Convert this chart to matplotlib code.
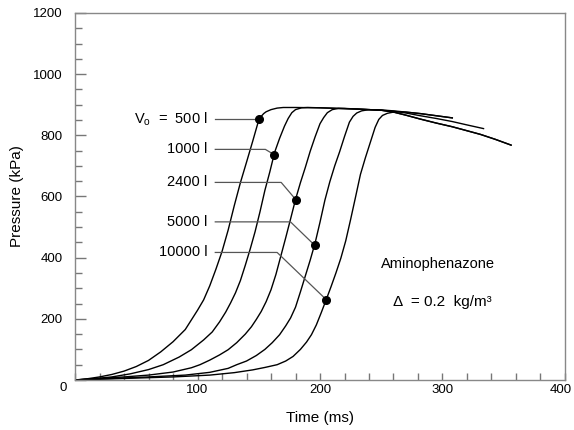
import matplotlib
matplotlib.use("Agg")
import matplotlib.pyplot as plt
from matplotlib.ticker import MultipleLocator
from matplotlib.transforms import ScaledTranslation

plt.rcParams['font.family'] = ['Liberation Sans', 'DejaVu Sans']
plt.rcParams['mathtext.fontset'] = 'custom'
plt.rcParams['mathtext.rm'] = 'Liberation Sans'
plt.rcParams['mathtext.it'] = 'Liberation Sans:italic'

# ---- data (time in ms, pressure in kPa) ----
t_500 = [0, 10, 20, 30, 40, 50, 60, 70, 80, 90, 100, 105, 110, 115, 120, 125, 130, 135, 140, 145,
         150, 152, 154, 156, 160, 165, 170, 180, 200, 230, 250, 260, 270, 282, 295, 308, 320, 331, 343, 356]
p_500 = [0, 4, 10, 18, 29, 44, 64, 92, 125, 165, 228, 262, 308, 362, 420, 490, 570, 645, 712, 780,
         850, 862, 871, 877, 884, 889, 891, 891, 890, 886, 882, 876, 866, 853, 840, 828, 815, 803, 787, 768]

t_1000 = [0, 15, 30, 45, 60, 72, 85, 95, 105, 112, 118, 123, 127, 131, 135, 139, 143, 147, 151, 155,
          159, 163, 167, 171, 174, 177, 180, 185, 190, 200, 230, 250, 260, 270, 282, 295, 308, 320, 331, 343, 356]
p_1000 = [0, 4, 10, 20, 34, 50, 75, 99, 131, 157, 190, 222, 252, 285, 325, 375, 428, 485, 550, 620,
          680, 745, 790, 830, 855, 874, 884, 890, 891, 890, 886, 882, 876, 866, 853, 840, 828, 815, 803, 787, 768]

t_2400 = [0, 20, 40, 60, 80, 95, 102, 110, 118, 125, 132, 139, 144, 148, 152, 156, 160, 164, 168, 172,
          176, 180, 184, 188, 192, 196, 200, 203, 206, 210, 215, 220, 230, 250, 260, 270, 282, 295, 308, 320, 333.5]
p_2400 = [0, 5, 10, 16, 26, 40, 50, 65, 82, 99, 122, 150, 174, 198, 224, 256, 295, 345, 405, 465,
          527, 590, 645, 695, 748, 795, 838, 858, 874, 884, 888, 888, 886, 882, 879, 873, 864, 855, 845, 834, 822]

t_5000 = [0, 30, 60, 90, 110, 125, 132, 140, 148, 155, 161, 167, 172, 176, 180, 184, 188, 192, 196, 200,
          204, 208, 212, 216, 220, 224, 227, 230, 234, 240, 250, 260, 270, 282, 295, 308]
p_5000 = [0, 5, 10, 16, 25, 38, 50, 62, 80, 100, 122, 148, 177, 203, 238, 288, 340, 392, 448, 516,
          588, 648, 700, 746, 796, 843, 862, 873, 880, 884, 883, 880, 876, 871, 864, 857]

t_10000 = [0, 40, 80, 110, 130, 145, 155, 165, 172, 178, 184, 189, 193, 197, 201, 205, 209, 213, 217, 221,
           225, 229, 233, 237, 241, 245, 248, 251, 255, 260, 265, 270, 282, 295, 308]
p_10000 = [0, 5, 10, 16, 24, 33, 41, 50, 62, 77, 100, 124, 148, 180, 220, 262, 305, 350, 398, 455,
           525, 598, 672, 726, 776, 826, 852, 865, 872, 876, 877, 876, 871, 864, 857]

labels = ["V$_\\mathrm{o}$  =  500 l", "1000 l", "2400 l", "5000 l", "10000 l"]
label_p = [853, 754, 646, 517, 417]
knee_t = [150.2, 155.4, 168.3, 175.9, 165.0]
dot_t = [150.2, 162.5, 180.2, 195.8, 205.3]
dot_p = [853, 737, 590, 440, 262]

# ---- figure ----
fig = plt.figure(figsize=(5.74, 4.30), dpi=100)
ax = fig.add_axes([0.1307, 0.1163, 0.8536, 0.8535])

curves = [(t_500, p_500), (t_1000, p_1000), (t_2400, p_2400), (t_5000, p_5000), (t_10000, p_10000)]
for t, p in curves:
    ax.plot(t, p, color='black', lw=1.0, solid_joinstyle='round')

lead_start = 114.5
for lab, lp, kt, dt, dp in zip(labels, label_p, knee_t, dot_t, dot_p):
    ax.plot([lead_start, kt, dt], [lp, lp, dp], color='#555555', lw=0.9)
    ax.plot([dt], [dp], 'o', color='black', ms=5.5, zorder=5)
    ax.text(108, lp, lab, ha='right', va='center', fontsize=10.5)

ax.text(249.5, 379, "Aminophenazone", ha='left', va='center', fontsize=10.5)
ax.text(260, 256, "\u0394  = 0.2  kg/m\u00b3", ha='left', va='center', fontsize=11)

ax.set_xlim(0, 400)
ax.set_ylim(0, 1200)
ax.xaxis.set_major_locator(MultipleLocator(100))
ax.xaxis.set_minor_locator(MultipleLocator(20))
ax.yaxis.set_major_locator(MultipleLocator(200))
ax.yaxis.set_minor_locator(MultipleLocator(50))

ax.tick_params(axis='both', which='both', direction='in', colors='#777777',
               labelcolor='black', labelsize=9.5, top=False, right=False)
ax.tick_params(axis='y', which='major', length=8, width=1, pad=9)
ax.tick_params(axis='y', which='minor', length=5, width=1)
ax.tick_params(axis='x', which='major', length=5, width=1, pad=3)
ax.tick_params(axis='x', which='minor', length=5, width=1)

ax.set_xticks([0, 100, 200, 300, 400])
ax.set_xticklabels(["", "100", "200", "300", "400"])
ax.set_yticks([0, 200, 400, 600, 800, 1000, 1200])
ax.set_yticklabels(["", "200", "400", "600", "800", "1000", "1200"])
ax.text(-9.8, -26, "0", ha='center', va='center', fontsize=9.5)

# nudge the last x tick label inward so it stays inside the canvas
last = ax.get_xticklabels()[-1]
last.set_transform(last.get_transform() + ScaledTranslation(-4 / 100, 0, fig.dpi_scale_trans))

for s in ax.spines.values():
    s.set_color('#888888')
    s.set_linewidth(1.0)

ax.set_xlabel("Time (ms)", fontsize=11)
ax.set_ylabel("Pressure (kPa)", fontsize=11)
ax.xaxis.set_label_coords(0.5, -0.085)
ax.yaxis.set_label_coords(-0.104, 0.5)

fig.savefig("out.png", dpi=100)
